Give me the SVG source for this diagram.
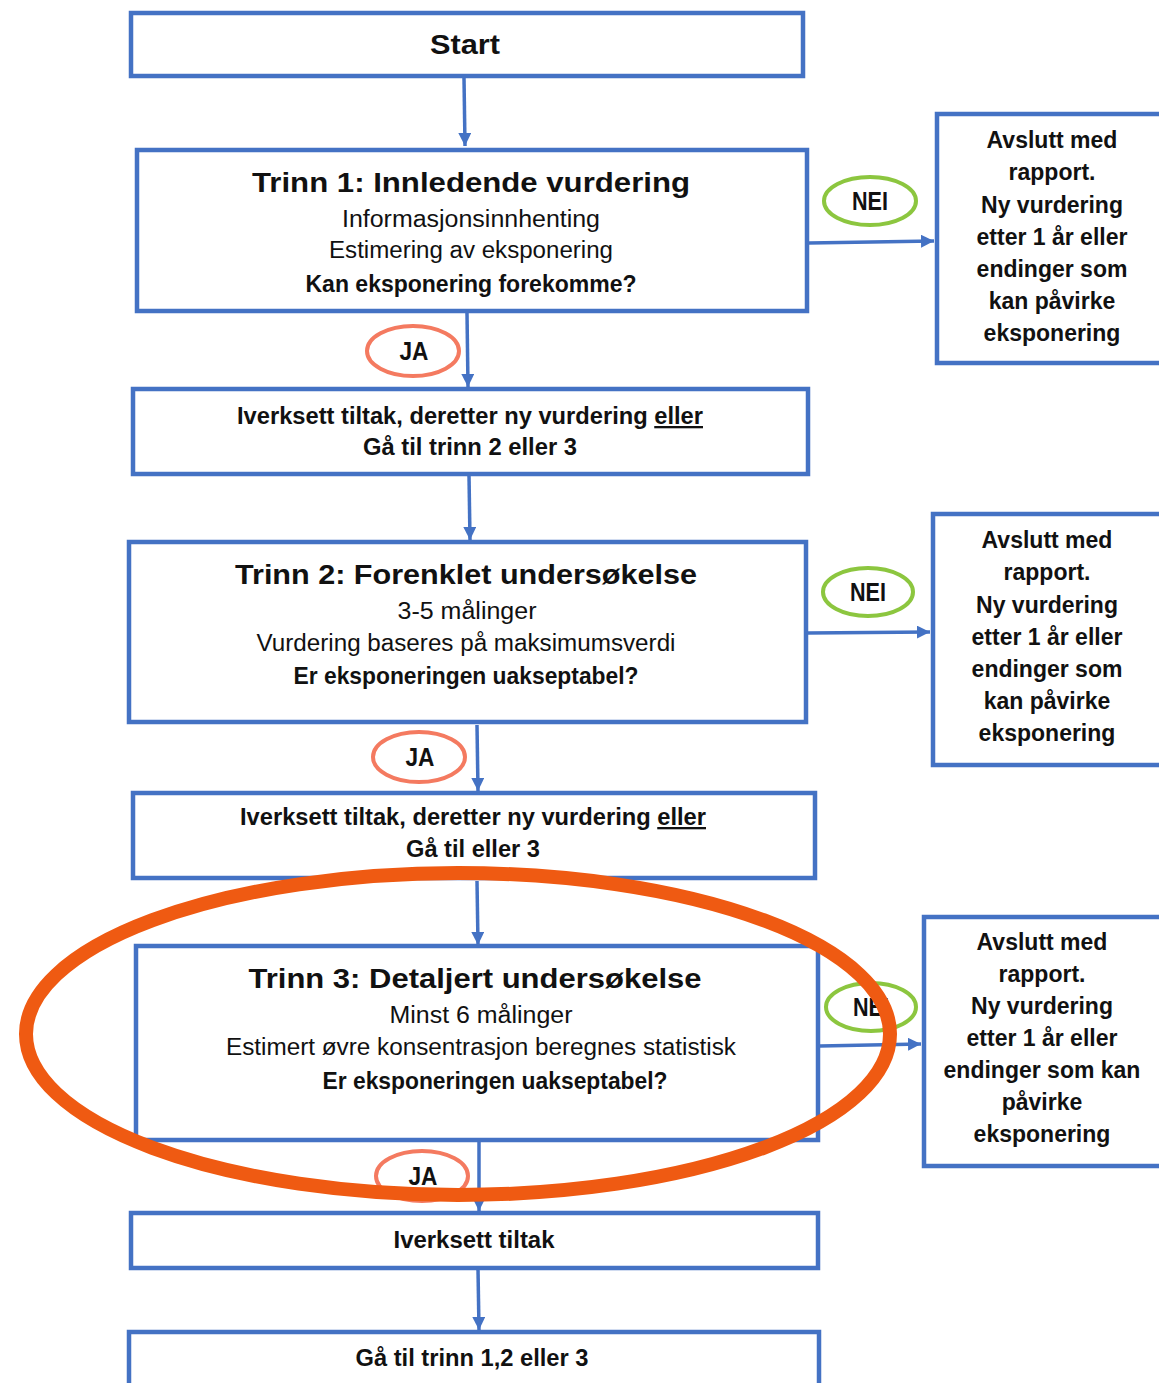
<svg xmlns="http://www.w3.org/2000/svg" width="1159" height="1383" viewBox="0 0 1159 1383">
<defs>
<style>
.box{fill:#fff;stroke:#4472C4;stroke-width:4.5}
.con{fill:none;stroke:#4472C4;stroke-width:3.5}
.t{font-family:"Liberation Sans",Arial,sans-serif;fill:#111;text-anchor:middle}
.h{font-size:28px;font-weight:700}
.m{font-size:23px;font-weight:700}
.r{font-size:23px;font-weight:400}
.lab{font-family:"Liberation Sans",Arial,sans-serif;font-size:25px;font-weight:700;fill:#111;text-anchor:middle}
.nei{fill:#fff;stroke:#8CC63F;stroke-width:4}
.ja{fill:#fff;stroke:#F47A60;stroke-width:4}
.u{text-decoration:underline}
</style>
<marker id="ah" viewBox="0 0 10 10" refX="10" refY="5" markerWidth="13" markerHeight="13" markerUnits="userSpaceOnUse" orient="auto">
<path d="M0 0 L10 5 L0 10 z" fill="#4472C4"/>
</marker>
</defs>
<rect width="1159" height="1383" fill="#fff"/>

<g id="connectors">
<path class="con" d="M464 78 L465 146" marker-end="url(#ah)"/>
<path class="con" d="M809 243 L934 241" marker-end="url(#ah)"/>
<path class="con" d="M467 313 L468 387" marker-end="url(#ah)"/>
<path class="con" d="M469 475 L470 540" marker-end="url(#ah)"/>
<path class="con" d="M808 633 L930 632" marker-end="url(#ah)"/>
<path class="con" d="M477 725 L478 791" marker-end="url(#ah)"/>
<path class="con" d="M477 881 L478 945" marker-end="url(#ah)"/>
<path class="con" d="M820 1046 L921 1044" marker-end="url(#ah)"/>
<path class="con" d="M479 1142 L479 1211" marker-end="url(#ah)"/>
<path class="con" d="M478 1269 L479 1330" marker-end="url(#ah)"/>
</g>

<g id="start">
<rect class="box" x="131" y="13" width="672" height="63"/>
<text class="t h" x="465" y="54" textLength="70" lengthAdjust="spacingAndGlyphs">Start</text>
</g>

<g id="trinn1">
<rect class="box" x="137" y="150" width="670" height="161"/>
<text class="t h" x="471" y="192" textLength="438" lengthAdjust="spacingAndGlyphs">Trinn 1: Innledende vurdering</text>
<text class="t r" x="471" y="227" textLength="258" lengthAdjust="spacingAndGlyphs">Informasjonsinnhenting</text>
<text class="t r" x="471" y="258" textLength="284" lengthAdjust="spacingAndGlyphs">Estimering av eksponering</text>
<text class="t m" x="471" y="292" textLength="331" lengthAdjust="spacingAndGlyphs">Kan eksponering forekomme?</text>
</g>

<g id="nei1">
<ellipse class="nei" cx="870" cy="201" rx="46" ry="24"/>
<text class="lab" x="870" y="210" textLength="36" lengthAdjust="spacingAndGlyphs">NEI</text>
</g>

<g id="avslutt1">
<rect class="box" x="937" y="114" width="240" height="249"/>
<text class="t m" x="1052" y="148">Avslutt med</text>
<text class="t m" x="1052" y="180">rapport.</text>
<text class="t m" x="1052" y="213">Ny vurdering</text>
<text class="t m" x="1052" y="245">etter 1 år eller</text>
<text class="t m" x="1052" y="277">endinger som</text>
<text class="t m" x="1052" y="309">kan påvirke</text>
<text class="t m" x="1052" y="341">eksponering</text>
</g>

<g id="ja1">
<ellipse class="ja" cx="413" cy="351" rx="46" ry="25"/>
<text class="lab" x="414" y="360" textLength="29" lengthAdjust="spacingAndGlyphs">JA</text>
</g>

<g id="tiltak1">
<rect class="box" x="133" y="389" width="675" height="85"/>
<text class="t m" x="470" y="424" textLength="466" lengthAdjust="spacingAndGlyphs">Iverksett tiltak, deretter ny vurdering <tspan class="u">eller</tspan></text>
<text class="t m" x="470" y="455" textLength="214" lengthAdjust="spacingAndGlyphs">Gå til trinn 2 eller 3</text>
</g>

<g id="trinn2">
<rect class="box" x="129" y="542" width="677" height="180"/>
<text class="t h" x="466" y="584" textLength="462" lengthAdjust="spacingAndGlyphs">Trinn 2: Forenklet undersøkelse</text>
<text class="t r" x="467" y="619" textLength="139" lengthAdjust="spacingAndGlyphs">3-5 målinger</text>
<text class="t r" x="466" y="651" textLength="419" lengthAdjust="spacingAndGlyphs">Vurdering baseres på maksimumsverdi</text>
<text class="t m" x="466" y="684" textLength="345" lengthAdjust="spacingAndGlyphs">Er eksponeringen uakseptabel?</text>
</g>

<g id="nei2">
<ellipse class="nei" cx="868" cy="592" rx="45" ry="24"/>
<text class="lab" x="868" y="601" textLength="36" lengthAdjust="spacingAndGlyphs">NEI</text>
</g>

<g id="avslutt2">
<rect class="box" x="933" y="514" width="240" height="251"/>
<text class="t m" x="1047" y="548">Avslutt med</text>
<text class="t m" x="1047" y="580">rapport.</text>
<text class="t m" x="1047" y="613">Ny vurdering</text>
<text class="t m" x="1047" y="645">etter 1 år eller</text>
<text class="t m" x="1047" y="677">endinger som</text>
<text class="t m" x="1047" y="709">kan påvirke</text>
<text class="t m" x="1047" y="741">eksponering</text>
</g>

<g id="ja2">
<ellipse class="ja" cx="419" cy="757" rx="46" ry="25"/>
<text class="lab" x="420" y="766" textLength="29" lengthAdjust="spacingAndGlyphs">JA</text>
</g>

<g id="tiltak2">
<rect class="box" x="133" y="793" width="682" height="85"/>
<text class="t m" x="473" y="825" textLength="466" lengthAdjust="spacingAndGlyphs">Iverksett tiltak, deretter ny vurdering <tspan class="u">eller</tspan></text>
<text class="t m" x="473" y="857" textLength="134" lengthAdjust="spacingAndGlyphs">Gå til eller 3</text>
</g>

<g id="trinn3">
<rect class="box" x="136" y="946" width="682" height="194"/>
<text class="t h" x="475" y="988" textLength="453" lengthAdjust="spacingAndGlyphs">Trinn 3: Detaljert undersøkelse</text>
<text class="t r" x="481" y="1023" textLength="183" lengthAdjust="spacingAndGlyphs">Minst 6 målinger</text>
<text class="t r" x="481" y="1055" textLength="510" lengthAdjust="spacingAndGlyphs">Estimert øvre konsentrasjon beregnes statistisk</text>
<text class="t m" x="495" y="1089" textLength="345" lengthAdjust="spacingAndGlyphs">Er eksponeringen uakseptabel?</text>
</g>

<g id="nei3">
<ellipse class="nei" cx="871" cy="1007" rx="45" ry="24"/>
<text class="lab" x="871" y="1016" textLength="36" lengthAdjust="spacingAndGlyphs">NEI</text>
</g>

<g id="avslutt3">
<rect class="box" x="924" y="917" width="250" height="249"/>
<text class="t m" x="1042" y="950">Avslutt med</text>
<text class="t m" x="1042" y="982">rapport.</text>
<text class="t m" x="1042" y="1014">Ny vurdering</text>
<text class="t m" x="1042" y="1046">etter 1 år eller</text>
<text class="t m" x="1042" y="1078">endinger som kan</text>
<text class="t m" x="1042" y="1110">påvirke</text>
<text class="t m" x="1042" y="1142">eksponering</text>
</g>

<g id="ja3">
<ellipse class="ja" cx="422" cy="1176" rx="46" ry="25"/>
<text class="lab" x="423" y="1185" textLength="29" lengthAdjust="spacingAndGlyphs">JA</text>
</g>

<g id="tiltak3">
<rect class="box" x="131" y="1213" width="687" height="55"/>
<text class="t m" x="474" y="1248" textLength="161" lengthAdjust="spacingAndGlyphs">Iverksett tiltak</text>
</g>

<g id="gaa">
<rect class="box" x="129" y="1332" width="690" height="70"/>
<text class="t m" x="472" y="1366" textLength="233" lengthAdjust="spacingAndGlyphs">Gå til trinn 1,2 eller 3</text>
</g>

<g id="highlight">
<ellipse cx="458" cy="1034" rx="432" ry="161" fill="none" stroke="#EF5A12" stroke-width="14"/>
</g>
</svg>
